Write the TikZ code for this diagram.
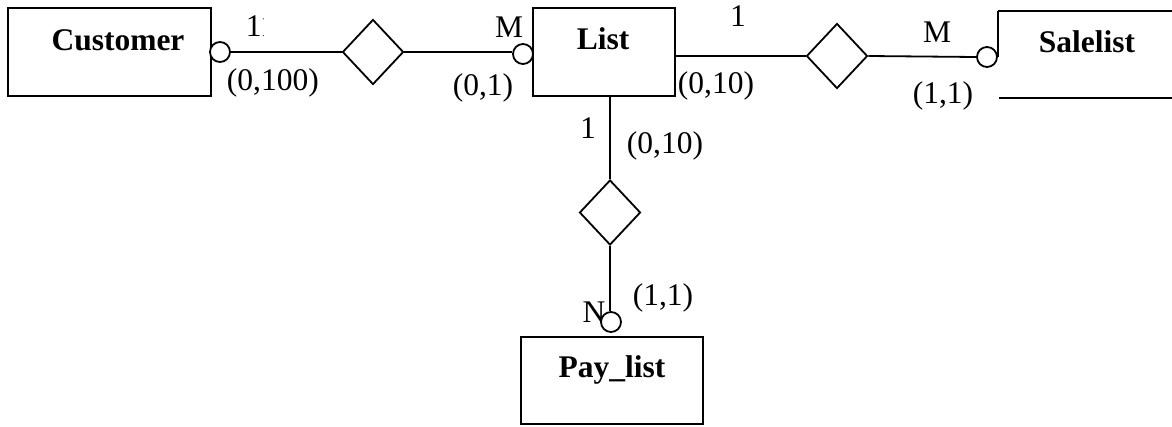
\documentclass[tikz,border=0pt]{standalone}
\usepackage{fontspec}
\setmainfont{Liberation Serif}
\usetikzlibrary{shapes.geometric}
\begin{document}
\begin{tikzpicture}[x=1pt,y=-1pt,line width=1.8pt,
  ent/.style={draw,rectangle,inner sep=0pt},
  rel/.style={draw,diamond,inner sep=0pt,minimum width=61pt,minimum height=65pt},
  opt/.style={draw,circle,inner sep=0pt,minimum size=20pt,fill=white},
  lbl/.style={font=\fontsize{31.5}{38}\selectfont,inner sep=0pt},
  entname/.style={font=\fontsize{31.5}{38}\selectfont\bfseries,inner sep=0pt}]
\useasboundingbox (0,0) rectangle (1172,426);
% entities
\node[ent,minimum width=203pt,minimum height=88pt] (cust) at (109.5,52) {};
\node[ent,minimum width=142pt,minimum height=88pt] (list) at (604,52) {};
\node[ent,minimum width=182pt,minimum height=87pt] (pay) at (612,380.5) {};
\node[entname,anchor=base] (custt) at (118,50) {Customer};
\node[entname,anchor=base] (listt) at (603,49) {List};
\node[entname,anchor=base] (salet) at (1087,52) {Salelist};
\node[entname,anchor=base] (payt) at (612,377) {Pay\_list};
% Salelist partial box
\coordinate (sTL) at (997,11);
\coordinate (sTR) at (1172,11);
\coordinate (sBL) at (999,98);
\coordinate (sBR) at (1172,98);
% relationships
\node[rel] (d1) at (373,52) {};
\node[rel] (d2) at (837,56) {};
\node[rel] (d3) at (610,212.5) {};
% optionality circles
\node[opt] (c1) at (220,52) {};
\node[opt] (c2) at (523,54) {};
\node[opt] (c3) at (987,57) {};
\node[opt] (c4) at (611,322) {};
\coordinate (cx3) at (c3.east);
\draw (cx3 |- sTL) -- (sTR);
\draw (cx3 |- sTL) -- (c3.east);
\draw (sBL) -- (sBR);
% connectors
\draw (c1.east) -- (d1.west);
\draw (d1.east) -- (d1.east -| c2.west);
\draw (d2.west -| list.east) -- (d2.west);
\draw (d2.east) -- (c3.west);
\draw (d3.north |- list.south) -- (d3.north);
\draw (d3.south) -- (d3.south |- c4.north);
% labels
\begin{scope}
\clip (240,0) rectangle (263.5,50);
\node[lbl,anchor=base west] (l11) at (245,36) {11};
\end{scope}
\node[lbl,anchor=base west] (l100) at (226,90) {(0,100)};
\node[lbl,anchor=base] (lM1) at (509,37) {M};
\node[lbl,anchor=base] (l01) at (483,95) {(0,1)};
\node[lbl,anchor=base west] (l010a) at (677,93) {(0,10)};
\node[lbl,anchor=base] (l1a) at (738,26) {1};
\node[lbl,anchor=base] (lM2) at (937,42) {M};
\node[lbl,anchor=base] (l11s) at (943,103) {(1,1)};
\node[lbl,anchor=base] (l1b) at (588,138) {1};
\node[lbl,anchor=base] (l010b) at (665,153) {(0,10)};
\node[lbl,anchor=base] (l11p) at (663,305) {(1,1)};
\node[lbl,anchor=base] (lN) at (594,322) {N};
\end{tikzpicture}
\end{document}
